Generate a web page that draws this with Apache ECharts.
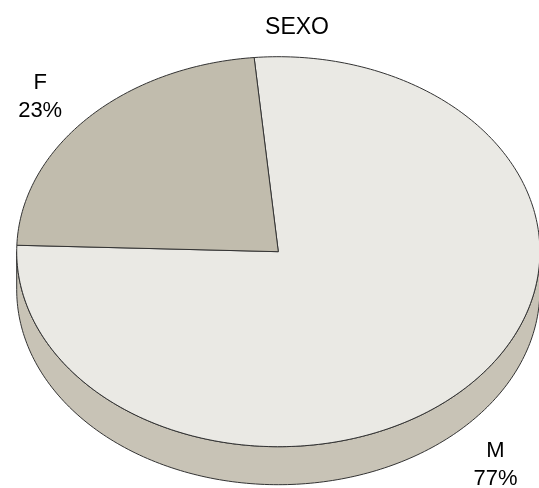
<html>
    <head>
        <meta charset="utf-8">
        <script src='https://cdn.jsdelivr.net/npm/echarts@6/dist/echarts.min.js'></script>
    </head>
    <body>
        <style>
            html, body, #main {
                width: 100%;
                height: 100%;
                margin: 0;
                background: #fff;
            }
        </style>
        <div id='main'></div>
        <script>
            // data
            var categories = ['M', 'F'];
            var values = [77, 23];
            var colors = ['#eae9e4', '#c1bcad'];

            // 3d pie layout (tilted ellipse + side wall)
            var CX = 278.3, CY = 251.7, RX = 261.6, RY = 195, DEPTH = 38;
            var START = -5.3;             // degrees, clockwise from 12 o'clock
            var SIDE_COLOR = '#c8c3b6';
            var LINE = '#333';
            var FONT = 'Liberation Sans, Arial, Helvetica, sans-serif';
            var labelNudge = [[-6, 11], [-15, 10]];

            var total = values.reduce(function (a, b) { return a + b; }, 0);
            var angles = [];
            var acc = START;
            values.forEach(function (v) {
                var span = v / total * 360;
                angles.push([acc, acc + span]);
                acc += span;
            });

            function pt(theta, dy) {
                var r = theta * Math.PI / 180;
                return [CX + RX * Math.sin(r), CY - RY * Math.cos(r) + (dy || 0)];
            }
            function arc(a0, a1, dy) {
                var pts = [];
                var n = Math.max(2, Math.ceil(Math.abs(a1 - a0) / 1));
                for (var i = 0; i <= n; i++) {
                    pts.push(pt(a0 + (a1 - a0) * i / n, dy));
                }
                return pts;
            }

            function renderItem(params, api) {
                var i = params.dataIndex;
                var a0 = angles[i][0], a1 = angles[i][1];
                var children = [];

                // front side wall: visible where 90 <= theta <= 270 (mod 360)
                [[90, 270], [450, 630], [-270, -90]].forEach(function (w) {
                    var s0 = Math.max(a0, w[0]), s1 = Math.min(a1, w[1]);
                    if (s1 > s0) {
                        var pts = arc(s0, s1, 0).concat(arc(s1, s0, DEPTH));
                        children.push({
                            type: 'polygon',
                            z2: 1,
                            shape: { points: pts },
                            style: { fill: SIDE_COLOR, stroke: LINE, lineWidth: 1 }
                        });
                    }
                });

                // top face
                children.push({
                    type: 'polygon',
                    z2: 10,
                    shape: { points: [[CX, CY]].concat(arc(a0, a1, 0)) },
                    style: { fill: colors[i], stroke: LINE, lineWidth: 1, lineJoin: 'round' }
                });

                // label
                var mid = (a0 + a1) / 2;
                var r = mid * Math.PI / 180;
                var dx = Math.sin(r), dyv = -Math.cos(r);
                var p = pt(mid, dyv > 0 ? DEPTH : 0);
                var pct = Math.round(api.value(0) / total * 100) + '%';
                children.push({
                    type: 'text',
                    z2: 20,
                    x: p[0] + dx * 45 + labelNudge[i][0],
                    y: p[1] + dyv * 45 + labelNudge[i][1],
                    style: {
                        text: categories[i] + '\n' + pct,
                        fill: '#000',
                        fontSize: 22,
                        lineHeight: 28,
                        fontFamily: FONT,
                        align: 'center',
                        verticalAlign: 'middle'
                    }
                });

                return { type: 'group', children: children };
            }

            var chart = echarts.init(document.getElementById('main'));
            var option = {
                backgroundColor: '#fff',
                animation: false,
                title: {
                    text: 'SEXO',
                    left: 292,
                    top: 11,
                    textAlign: 'center',
                    textStyle: {
                        fontSize: 23,
                        fontWeight: 'normal',
                        color: '#000',
                        fontFamily: FONT
                    }
                },
                series: [{
                    type: 'custom',
                    coordinateSystem: 'none',
                    renderItem: renderItem,
                    data: values.map(function (v, i) { return { name: categories[i], value: [v] }; })
                }]
            };
            chart.setOption(option);
            window.onresize = chart.resize;
        </script>
    </body>
</html>
